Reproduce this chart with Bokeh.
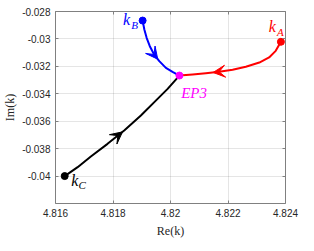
from bokeh.plotting import figure
from bokeh.models import (Arrow, VeeHead, Label, LinearAxis, FixedTicker,
                          CustomJSTickFormatter, Range1d)
from bokeh.embed import file_html
from bokeh.resources import INLINE

# ---- data ----
red_x = [4.82384, 4.82366, 4.82343, 4.82309, 4.82262, 4.82216, 4.82169, 4.82123, 4.82077, 4.82031]
red_y = [-0.03021, -0.03087, -0.03135, -0.03172, -0.03203, -0.03225, -0.03240, -0.03250, -0.03259, -0.03267]
blue_x = [4.81903, 4.81909, 4.81917, 4.81928, 4.81943, 4.81961, 4.81984, 4.82007, 4.82031]
blue_y = [-0.02866, -0.02931, -0.02992, -0.03053, -0.03114, -0.03162, -0.03211, -0.03240, -0.03267]
black_x = [4.81632, 4.81677, 4.81723, 4.81781, 4.81839, 4.81897, 4.81955, 4.81990, 4.82031]
black_y = [-0.04000, -0.03935, -0.03857, -0.03765, -0.03668, -0.03558, -0.03437, -0.03364, -0.03267]
x_ticks = [4.816, 4.818, 4.820, 4.822, 4.824]
y_ticks = [-0.040, -0.038, -0.036, -0.034, -0.032, -0.030, -0.028]

TXT = "#262626"
GRIDC = "#262626"
SPINE = "#808080"
RED, BLUE, BLACK, MAG = "#FF0000", "#0000FF", "#000000", "#FF00FF"
SERIF = "Liberation Serif"

p = figure(frame_width=230, frame_height=192,
           x_range=Range1d(4.816, 4.824), y_range=Range1d(-0.042, -0.028),
           output_backend="svg", toolbar_location=None,
           min_border_left=50, min_border_right=18, min_border_top=11, min_border_bottom=32,
           x_axis_label="Re(k)", y_axis_label="Im(k)")
p.outline_line_color = None
p.background_fill_color = "white"

fmt = CustomJSTickFormatter(code="return String(parseFloat(tick.toFixed(6)));")
for ax, ticks in ((p.xaxis[0], x_ticks), (p.yaxis[0], y_ticks)):
    ax.ticker = FixedTicker(ticks=ticks)
    ax.formatter = fmt
    ax.major_tick_in = 3
    ax.major_tick_out = 0
    ax.minor_tick_line_color = None
    ax.axis_line_color = SPINE
    ax.major_tick_line_color = SPINE
    ax.major_label_text_font = "Liberation Sans"
    ax.major_label_text_font_size = "10px"
    ax.major_label_text_color = TXT
    ax.major_label_standoff = 5
    ax.axis_label_text_font = SERIF
    ax.axis_label_text_font_style = "normal"
    ax.axis_label_text_font_size = "12px"
    ax.axis_label_text_color = TXT
p.xaxis[0].axis_label_standoff = 4
p.yaxis[0].axis_label_standoff = 2

for ticks, side in ((y_ticks, "right"), (x_ticks, "above")):
    ax = LinearAxis(ticker=FixedTicker(ticks=ticks),
                    formatter=CustomJSTickFormatter(code="return '';"),
                    major_label_text_font_size="0px", major_label_standoff=0,
                    major_tick_in=3, major_tick_out=0, minor_tick_line_color=None,
                    axis_line_color=SPINE, major_tick_line_color=SPINE)
    p.add_layout(ax, side)

p.xgrid.ticker = FixedTicker(ticks=x_ticks)
p.ygrid.ticker = FixedTicker(ticks=y_ticks)
p.grid.grid_line_color = GRIDC
p.grid.grid_line_alpha = 0.12
p.grid.grid_line_width = 1

# curves
for xs, ys, c in ((red_x, red_y, RED), (blue_x, blue_y, BLUE), (black_x, black_y, BLACK)):
    p.line(xs, ys, line_color=c, line_width=2, line_join="round", line_cap="round")

# arrow heads placed along the curves
def add_arrow(xs, ys, i, frac, color):
    xe = xs[i] + frac * (xs[i + 1] - xs[i])
    ye = ys[i] + frac * (ys[i + 1] - ys[i])
    p.add_layout(Arrow(end=VeeHead(size=12, fill_color=color, line_color=color, line_width=1),
                       x_start=xs[i], y_start=ys[i], x_end=xe, y_end=ye,
                       line_alpha=0, line_width=0))

add_arrow(red_x, red_y, 6, 0.45, RED)
add_arrow(blue_x, blue_y, 4, 0.7, BLUE)
add_arrow(black_x, black_y, 3, 0.9, BLACK)

# end points
p.scatter([red_x[0]], [red_y[0]], size=7, color=RED)
p.scatter([blue_x[0]], [blue_y[0]], size=7, color=BLUE)
p.scatter([black_x[0]], [black_y[0]], size=7, color=BLACK)
p.scatter([red_x[-1]], [red_y[-1]], size=7, color=MAG)

def lab(x, y, text, dx, dy, color, size):
    p.add_layout(Label(x=x, y=y, text=text, x_offset=dx, y_offset=dy,
                       text_font=SERIF, text_font_style="italic", text_font_size=size,
                       text_color=color, text_align="center", text_baseline="middle"))

lab(red_x[0], red_y[0], "k", -8.5, 15, RED, "16px")
lab(red_x[0], red_y[0], "A", -0.5, 9.5, RED, "11px")
lab(blue_x[0], blue_y[0], "k", -16, 1, BLUE, "16px")
lab(blue_x[0], blue_y[0], "B", -8, -4, BLUE, "11px")
lab(black_x[0], black_y[0], "k", 10, -4, BLACK, "16px")
lab(black_x[0], black_y[0], "C", 17.5, -8.5, BLACK, "11px")
lab(red_x[-1], red_y[-1], "EP3", 14.7, -17.5, MAG, "15px")

open("out.html", "w").write(file_html(p, INLINE))
